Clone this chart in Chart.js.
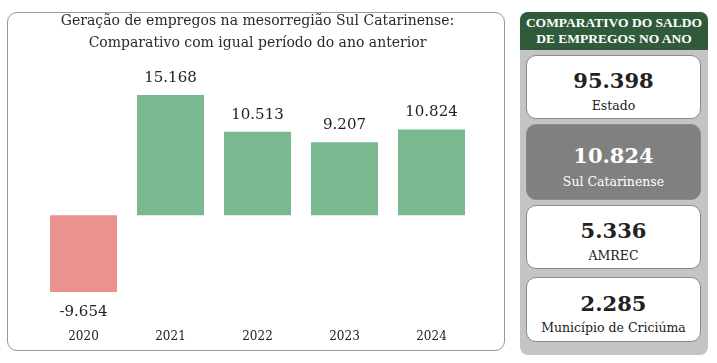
<!DOCTYPE html>
<html>
<head>
<meta charset="utf-8">
<script src="https://cdn.jsdelivr.net/npm/chart.js@4"></script>
<style>
  body { margin: 0; width: 717px; height: 363px; background: #fff; position: relative; overflow: hidden; font-family: "DejaVu Serif", serif; }
  #leftPanel { position: absolute; left: 7px; top: 12px; width: 496px; height: 337px; border: 1px solid #999; border-radius: 10px; }
  #chartBox { position: absolute; left: 8px; top: 10px; width: 496px; height: 353px; }
  #side { position: absolute; left: 520px; top: 12px; width: 188px; height: 343px; background: #c4c4c4; border-radius: 8px; }
  #sideHead { height: 38px; background: #2f5b3b; border-radius: 8px 8px 0 0; color: #fff; font-family: "Liberation Serif", serif; font-weight: bold; font-size: 13.5px; line-height: 16px; text-align: center; padding-top: 3px; box-sizing: border-box; white-space: nowrap; }
  .card { position: absolute; left: 6px; width: 175px; background: #fff; border: 1px solid #8a8a8a; border-radius: 10px; text-align: center; box-sizing: border-box; }
  .card .num, .card .lbl { position: absolute; left: 0; right: 0; line-height: 20px; margin-top: -10px; color: #222; white-space: nowrap; }
  .card .num { font-weight: bold; font-size: 21px; }
  .card .lbl { font-size: 12.5px; }
  .card.dark { background: #808080; }
  .card.dark .num, .card.dark .lbl { color: #fff; }
</style>
</head>
<body>
<div id="leftPanel"></div>
<div id="chartBox"><canvas id="chart" width="496" height="353"></canvas></div>
<div id="side">
  <div id="sideHead">COMPARATIVO DO SALDO<br>DE EMPREGOS NO ANO</div>
</div>
<script>
const years = ["2020", "2021", "2022", "2023", "2024"];
const saldo = [-9654, 15168, 10513, 9207, 10824];

const summaryLabels = ["Estado", "Sul Catarinense", "AMREC", "Município de Criciúma"];
const summaryValues = [95398, 10824, 5336, 2285];

const green = "rgb(122,184,143)";
const red = "rgb(233,146,142)";

function fmt(v) {
  const s = Math.abs(v).toString().replace(/\B(?=(\d{3})+(?!\d))/g, ".");
  return (v < 0 ? "-" : "") + s;
}

// summary cards (positions relative to the grey box)
const cardTops = [43, 112, 193, 265];
const cardHeights = [64, 76, 64, 65];
const numOffsets = [25, 31, 25, 26];
const lblOffsets = [50, 57, 50, 50];
const side = document.getElementById("side");
summaryLabels.forEach((lbl, i) => {
  const d = document.createElement("div");
  d.className = "card" + (i === 1 ? " dark" : "");
  d.style.top = cardTops[i] + "px";
  d.style.height = cardHeights[i] + "px";
  d.innerHTML = `<div class="num" style="top:${numOffsets[i]}px">${fmt(summaryValues[i])}</div>` +
                `<div class="lbl" style="top:${lblOffsets[i]}px">${lbl}</div>`;
  side.appendChild(d);
});

// value labels above/below each bar
const valueLabels = {
  id: "valueLabels",
  afterDatasetsDraw(chart) {
    const ctx = chart.ctx;
    const meta = chart.getDatasetMeta(0);
    ctx.save();
    ctx.font = "15px 'DejaVu Serif'";
    ctx.fillStyle = "#222";
    ctx.textAlign = "center";
    ctx.textBaseline = "middle";
    meta.data.forEach((bar, i) => {
      const v = saldo[i];
      const y = v < 0 ? bar.y + 20 : bar.y - 17;
      ctx.fillText(fmt(v), bar.x, y);
    });
    ctx.restore();
  }
};

const ctx = document.getElementById("chart").getContext("2d");
new Chart(ctx, {
  type: "bar",
  data: {
    labels: years,
    datasets: [{
      data: saldo,
      backgroundColor: saldo.map(v => v < 0 ? red : green),
      categoryPercentage: 1,
      barPercentage: 0.77
    }]
  },
  options: {
    responsive: false,
    animation: false,
    layout: { padding: { left: 32, right: 29, top: 0, bottom: 0 } },
    scales: {
      x: {
        grid: { display: false, drawTicks: false },
        border: { display: false },
        ticks: { color: "#222", font: { family: "DejaVu Serif", size: 12 }, padding: 19 }
      },
      y: { display: false, min: -12000, max: 18000 }
    },
    plugins: {
      legend: { display: false },
      tooltip: { enabled: false },
      title: {
        display: true,
        text: ["Geração de empregos na mesorregião Sul Catarinense:", "Comparativo com igual período do ano anterior"],
        color: "#2a2a2a",
        font: { family: "DejaVu Serif", size: 14, weight: "normal", lineHeight: 1.55 },
        padding: { top: 1, bottom: 18 }
      }
    }
  },
  plugins: [valueLabels]
});
</script>
</body>
</html>
